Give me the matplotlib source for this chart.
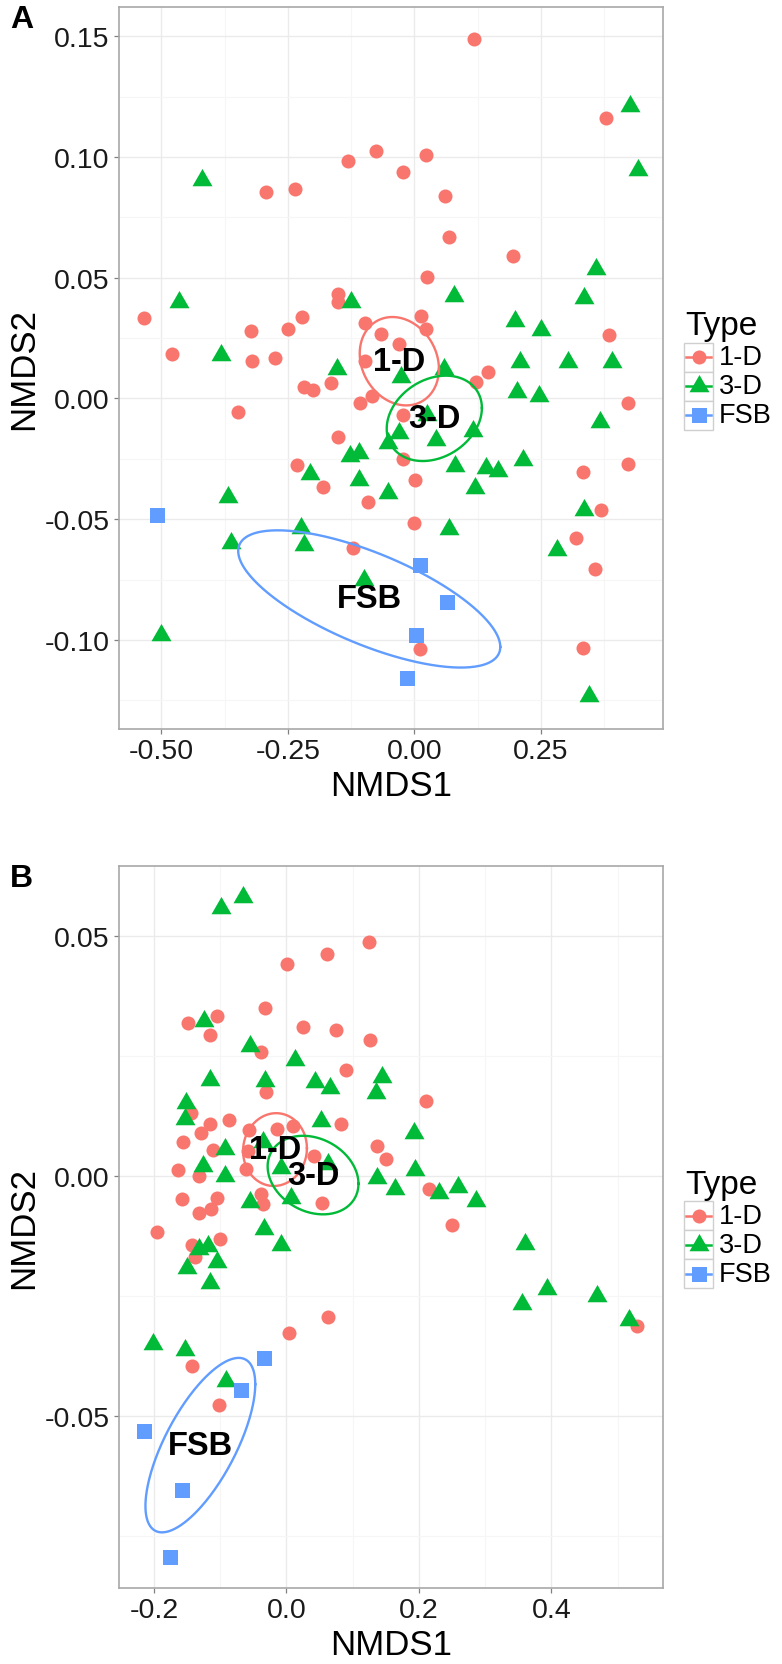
import numpy as np
import matplotlib
matplotlib.use('Agg')
import matplotlib.pyplot as plt
from matplotlib.path import Path
from matplotlib.lines import Line2D
from matplotlib.patches import Rectangle

plt.rcParams['font.family'] = ['Liberation Sans', 'DejaVu Sans']

# ---------------- Panel A data ----------------
a_1d_x = [0.1186, 0.379, -0.1317, -0.0757, -0.022, 0.0237, -0.293, -0.2365, 0.060, 0.0686,
          0.1944, 0.0257, -0.535, -0.1514, -0.150, -0.2225, -0.249, -0.3227, -0.0974, 0.014,
          0.023, -0.065, -0.030, 0.384, -0.479, -0.320, -0.275, -0.0974, -0.2174, -0.1996,
          -0.1646, -0.0842, -0.1073, 0.1462, 0.121, -0.349, -0.0217, 0.4217, -0.150, -0.0217,
          -0.2324, -0.180, 0.0014, -0.092, 0.334, 0.4217, 0.369, -0.0006, 0.319, -0.1217,
          0.357, 0.0113, 0.334]
a_1d_y = [0.1489, 0.116, 0.0983, 0.1025, 0.0939, 0.1008, 0.0853, 0.0867, 0.084, 0.0667,
          0.0590, 0.0504, 0.0331, 0.0431, 0.0400, 0.0338, 0.0287, 0.0279, 0.0313, 0.034,
          0.0287, 0.0268, 0.0225, 0.0262, 0.0182, 0.0155, 0.0166, 0.0157, 0.0048, 0.0034,
          0.0062, 0.0012, -0.0021, 0.0110, 0.0068, -0.0055, -0.0068, -0.0021, -0.0158, -0.0252,
          -0.0276, -0.0366, -0.0338, -0.0431, -0.0304, -0.0273, -0.0463, -0.0515, -0.0577, -0.0619,
          -0.0707, -0.1036, -0.1033]
a_3d_x = [0.426, 0.4415, -0.419, 0.3598, 0.079, 0.3347, -0.465, -0.125, 0.199, 0.251,
          -0.382, 0.209, 0.304, 0.390, -0.153, -0.027, 0.058, 0.2024, 0.247, 0.367,
          0.0245, -0.0296, -0.0514, 0.043, 0.1154, -0.127, -0.110, 0.0804, 0.142, 0.165,
          0.2154, -0.206, -0.1087, -0.0526, 0.12, -0.3676, 0.336, 0.0686, -0.224, -0.217,
          -0.363, 0.2814, -0.0988, -0.501, 0.346]
a_3d_y = [0.1212, 0.0946, 0.0904, 0.0536, 0.0424, 0.0414, 0.040, 0.0398, 0.032, 0.0283,
          0.0179, 0.0152, 0.0149, 0.0149, 0.012, 0.009, 0.0122, 0.0028, 0.0011, -0.0097,
          -0.0069, -0.0143, -0.0183, -0.0171, -0.0135, -0.0238, -0.0226, -0.028, -0.029, -0.0302,
          -0.0255, -0.0311, -0.0338, -0.0392, -0.0373, -0.0407, -0.0463, -0.0541, -0.0536, -0.0608,
          -0.060, -0.0628, -0.0753, -0.098, -0.1232]
a_fsb_x = [-0.509, 0.0113, 0.064, 0.0034, -0.015]
a_fsb_y = [-0.0483, -0.069, -0.0842, -0.098, -0.1157]

# ---------------- Panel B data ----------------
b_1d_x = [0.1247, 0.0619, 0.0009, -0.0328, -0.1485, -0.1047, -0.1158, 0.0251, 0.0755, 0.1257,
          -0.0377, 0.0906, -0.0312, 0.2113, -0.1434, -0.0866, -0.1283, -0.1158, -0.156, -0.0564,
          -0.0142, 0.010, 0.083, -0.1108, -0.058, 0.1374, 0.1499, 0.0412, -0.1636, -0.1324,
          -0.0614, 0.2148, -0.157, -0.1047, -0.0377, -0.0353, 0.0543, -0.1324, -0.1132, 0.2506,
          -0.1947, -0.1419, -0.1007, -0.1384, 0.0628, 0.0039, -0.1425, -0.1017, 0.5298]
b_1d_y = [0.0488, 0.0462, 0.0442, 0.0351, 0.0319, 0.0334, 0.0293, 0.031, 0.0305, 0.0283,
          0.0259, 0.022, 0.0175, 0.0156, 0.0131, 0.0116, 0.009, 0.0108, 0.007, 0.0096,
          0.0097, 0.0104, 0.0108, 0.0054, 0.0052, 0.0063, 0.0036, 0.0042, 0.0012, 0.0,
          0.0014, -0.0028, -0.0049, -0.0045, -0.0038, -0.0059, -0.0056, -0.0078, -0.0069, -0.0103,
          -0.0116, -0.0145, -0.0131, -0.017, -0.0295, -0.0328, -0.0396, -0.0478, -0.0313]
b_3d_x = [-0.0992, -0.0655, -0.1248, -0.0554, 0.0125, -0.1147, -0.0328, 0.0427, 0.0654, 0.1449,
          0.1348, -0.151, -0.1535, 0.0528, 0.1926, -0.0931, -0.0353, -0.1259, -0.0931, -0.0075,
          0.0628, 0.1947, 0.1374, 0.1635, 0.2303, 0.259, 0.2868, -0.0554, 0.0075, -0.0338,
          -0.1319, -0.1183, -0.0086, -0.1494, -0.1047, -0.1147, 0.3597, 0.394, 0.3562, 0.4694,
          0.5172, -0.2013, -0.1525, -0.0916]
b_3d_y = [0.0558, 0.0581, 0.0323, 0.027, 0.0241, 0.020, 0.0197, 0.0195, 0.0184, 0.0207,
          0.0172, 0.0152, 0.0118, 0.0115, 0.009, 0.0056, 0.0071, 0.0021, 0.0, 0.0017,
          0.0024, 0.0013, -0.0005, -0.0028, -0.0035, -0.0023, -0.0052, -0.0054, -0.0045, -0.011,
          -0.0153, -0.0146, -0.0145, -0.0191, -0.0179, -0.0224, -0.0141, -0.0236, -0.0268, -0.025,
          -0.030, -0.0351, -0.0362, -0.0428]
b_fsb_x = [-0.0338, -0.069, -0.2149, -0.157, -0.1751]
b_fsb_y = [-0.0379, -0.0446, -0.0532, -0.0656, -0.0794]

type_labels = ['1-D', '3-D', 'FSB']
type_colors = ['#F8766D', '#00BA38', '#619CFF']

a_xticks = [-0.50, -0.25, 0.00, 0.25]
a_xticklabels = ['-0.50', '-0.25', '0.00', '0.25']
a_yticks = [-0.10, -0.05, 0.00, 0.05, 0.10, 0.15]
a_yticklabels = ['-0.10', '-0.05', '0.00', '0.05', '0.10', '0.15']
b_xticks = [-0.2, 0.0, 0.2, 0.4]
b_xticklabels = ['-0.2', '0.0', '0.2', '0.4']
b_yticks = [-0.05, 0.00, 0.05]
b_yticklabels = ['-0.05', '0.00', '0.05']

# ---------------- figure ----------------
W, H = 782, 1665
fig = plt.figure(figsize=(W / 100, H / 100), dpi=100)


def fx(px):
    return px / W


def fy(py):
    return 1 - py / H


tri_path = Path([(-1, -0.57735), (1, -0.57735), (0, 1.1547), (-1, -0.57735)],
                [Path.MOVETO, Path.LINETO, Path.LINETO, Path.CLOSEPOLY])
markers = ['o', tri_path, 's']
msizes = [10.1, 16.6, 10.8]  # diameters in points

CHI = np.sqrt(-2 * np.log(0.05))


def se_ellipse(x, y):
    x = np.asarray(x)
    y = np.asarray(y)
    cov = np.cov(np.vstack([x, y])) / len(x)
    L = np.linalg.cholesky(cov)
    t = np.linspace(0, 2 * np.pi, 300)
    pts = L @ np.vstack([np.cos(t), np.sin(t)]) * CHI
    return x.mean() + pts[0], y.mean() + pts[1]


def panel(rect_px, xlim, ylim, groups, xt, xtl, yt, ytl, xminor, yminor):
    left, top, right, bottom = rect_px
    ax = fig.add_axes([fx(left), fy(bottom), (right - left) / W, (bottom - top) / H])
    ax.set_xlim(xlim)
    ax.set_ylim(ylim)
    ax.set_xticks(xt)
    ax.set_xticklabels(xtl)
    ax.set_yticks(yt)
    ax.set_yticklabels(ytl)
    ax.set_xticks(xminor, minor=True)
    ax.set_yticks(yminor, minor=True)
    ax.grid(which='major', color='#ebebeb', lw=1.0)
    ax.grid(which='minor', color='#f6f6f6', lw=0.8)
    ax.set_axisbelow(True)
    ax.tick_params(which='minor', length=0)
    ax.tick_params(which='major', length=3.6, width=0.9, color='#808080',
                   labelsize=20.5, labelcolor='#1a1a1a', pad=3)
    for s in ax.spines.values():
        s.set_color('#a8a8a8')
        s.set_linewidth(1.2)
    for (gx, gy), col, mk, ms in zip(groups, type_colors, markers, msizes):
        ax.scatter(gx, gy, s=ms ** 2, marker=mk, color=col, linewidths=0, zorder=3)
    for (gx, gy), col, lab in zip(groups, type_colors, type_labels):
        ex, ey = se_ellipse(gx, gy)
        ax.plot(ex, ey, color=col, lw=1.7, zorder=4)
        ax.text(np.mean(gx), np.mean(gy), lab, fontsize=23.5, fontweight='bold',
                ha='center', va='center', zorder=5, color='black')
    return ax


axA = panel((119, 8, 663, 730), (-0.5836, 0.4915), (-0.1369, 0.1621),
            [(a_1d_x, a_1d_y), (a_3d_x, a_3d_y), (a_fsb_x, a_fsb_y)],
            a_xticks, a_xticklabels, a_yticks, a_yticklabels,
            [-0.375, -0.125, 0.125, 0.375], [-0.125, -0.075, -0.025, 0.025, 0.075, 0.125])

axB = panel((119, 866.7, 663, 1589.3), (-0.2528, 0.5687), (-0.0860, 0.0647),
            [(b_1d_x, b_1d_y), (b_3d_x, b_3d_y), (b_fsb_x, b_fsb_y)],
            b_xticks, b_xticklabels, b_yticks, b_yticklabels,
            [-0.1, 0.1, 0.3, 0.5], [-0.075, -0.025, 0.025])


def labels_and_legend(off, letter, panel_mid):
    fig.text(fx(10), fy(28.5 + off), letter, fontsize=23, fontweight='bold',
             ha='left', va='baseline')
    fig.text(fx(391), fy(796.5 + off), 'NMDS1', fontsize=25, ha='center', va='baseline')
    fig.text(fx(33.3), fy(panel_mid), 'NMDS2', fontsize=25, rotation=90,
             rotation_mode='anchor', ha='center', va='baseline')
    fig.text(fx(685), fy(335 + off), 'Type', fontsize=24, ha='left', va='baseline')
    for i, (lab, col, mk, ms) in enumerate(zip(type_labels, type_colors, markers, msizes)):
        y0 = 343.5 + 29 * i + off
        fig.add_artist(Rectangle((fx(684), fy(y0 + 29)), 29 / W, 29 / H,
                                 transform=fig.transFigure, facecolor='white',
                                 edgecolor='#cfcfcf', lw=1.0))
        yc = y0 + 14.5
        fig.add_artist(Line2D([fx(686), fx(711)], [fy(yc), fy(yc)],
                              transform=fig.transFigure, color=col, lw=1.8))
        fig.add_artist(Line2D([fx(698.5)], [fy(yc)], transform=fig.transFigure,
                              marker=mk, markersize=ms, color=col, linestyle='none',
                              markeredgewidth=0))
        fig.text(fx(719), fy(yc), lab, fontsize=19.5, ha='left', va='center')


labels_and_legend(0, 'A', 369)
labels_and_legend(858.7, 'B', 1228)

fig.savefig('out.png', dpi=100, facecolor='white')
